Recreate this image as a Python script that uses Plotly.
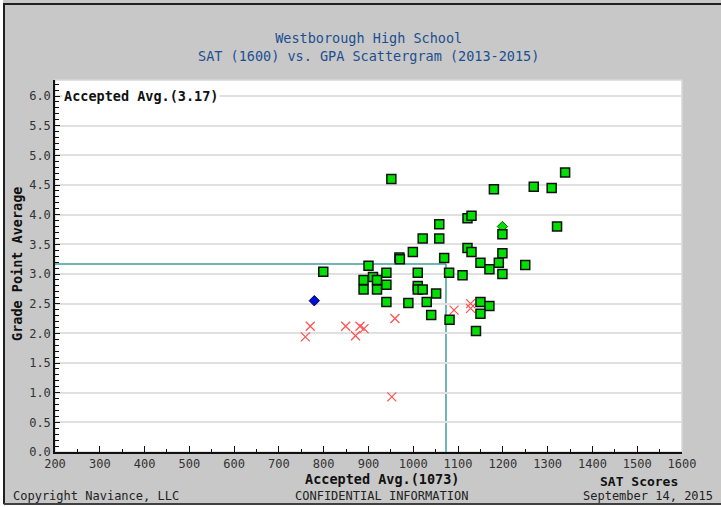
import plotly.graph_objects as go

# ---- data ----
accepted_sat = [951, 1339, 1180, 1269, 1309, 1058, 1121, 1130, 1199, 1321, 1021, 1058, 999, 969, 970,
                1069, 1121, 1130, 1199, 1150, 1191, 1170, 1199, 1250, 900, 1080, 1110, 889, 910, 919,
                940, 1010, 889, 919, 940, 1010, 1010, 1021, 1051, 940, 989, 1030, 1150, 1170, 1040,
                1081, 1150, 1140, 799]
accepted_gpa = [4.60, 4.71, 4.43, 4.47, 4.45, 3.84, 3.94, 3.98, 3.67, 3.80, 3.60, 3.60, 3.37, 3.28, 3.25,
                3.27, 3.44, 3.37, 3.35, 3.19, 3.19, 3.08, 3.00, 3.15, 3.14, 3.02, 2.98, 2.90, 2.95, 2.90,
                3.02, 3.02, 2.74, 2.74, 2.82, 2.80, 2.74, 2.74, 2.67, 2.53, 2.51, 2.53, 2.53, 2.46, 2.31,
                2.23, 2.33, 2.04, 3.04]
denied_sat = [770, 759, 849, 881, 890, 871, 959, 952, 1091, 1128, 1128]
denied_gpa = [2.12, 1.94, 2.12, 2.12, 2.08, 1.96, 2.25, 0.93, 2.39, 2.50, 2.42]
green_diamond_sat = [1199]
green_diamond_gpa = [3.80]
blue_diamond_sat = [779]
blue_diamond_gpa = [2.55]

avg_sat = 1073
avg_gpa = 3.17
x_ticks = list(range(200, 1601, 100))
y_ticks = [0.0, 0.5, 1.0, 1.5, 2.0, 2.5, 3.0, 3.5, 4.0, 4.5, 5.0, 5.5, 6.0]

title_lines = ["Westborough High School", "SAT (1600) vs. GPA Scattergram (2013-2015)"]

MONO = "DejaVu Sans Mono"
GRAY = "#c8c8c8"

fig = go.Figure()

fig.add_trace(go.Scatter(x=denied_sat, y=denied_gpa, mode="markers",
                         marker=dict(symbol="x-thin", size=9, line=dict(color="#ff5050", width=1.2)),
                         showlegend=False, hoverinfo="x+y"))
fig.add_trace(go.Scatter(x=blue_diamond_sat, y=blue_diamond_gpa, mode="markers",
                         marker=dict(symbol="diamond", size=8, color="#0010d0",
                                     line=dict(color="#000060", width=1)),
                         showlegend=False))
fig.add_trace(go.Scatter(x=green_diamond_sat, y=green_diamond_gpa, mode="markers",
                         marker=dict(symbol="diamond", size=8, color="#00e000",
                                     line=dict(color="#006000", width=1)),
                         showlegend=False))
fig.add_trace(go.Scatter(x=accepted_sat, y=accepted_gpa, mode="markers",
                         marker=dict(symbol="square", size=9, color="#00e000",
                                     line=dict(color="#101010", width=1.5)),
                         showlegend=False))

# average lines
fig.add_shape(type="line", xref="x", yref="y", x0=200, x1=avg_sat, y0=avg_gpa, y1=avg_gpa,
              line=dict(color="#3f9f9f", width=1.5), layer="below")
fig.add_shape(type="line", xref="x", yref="y", x0=avg_sat, x1=avg_sat, y0=0, y1=avg_gpa,
              line=dict(color="#3f9f9f", width=1.5), layer="below")

# plot border (light top/right)
fig.add_shape(type="rect", xref="paper", yref="paper", x0=0, x1=1, y0=0, y1=1,
              line=dict(color="#d8d8d8", width=1.5), layer="below")

# outer frame
def xp(px):
    return (px - 55) / 627

def yp(py):
    return (452 - py) / 372

fig.add_shape(type="rect", xref="paper", yref="paper", x0=xp(-5), x1=xp(730), y0=yp(505), y1=yp(520),
              fillcolor="white", line=dict(width=0), layer="below")
fig.add_shape(type="rect", xref="paper", yref="paper", x0=xp(-5), x1=xp(3), y0=yp(520), y1=yp(-5),
              fillcolor="white", line=dict(width=0), layer="below")
fig.add_shape(type="line", xref="paper", yref="paper", x0=xp(3), x1=xp(730), y0=yp(4), y1=yp(4),
              line=dict(color="#202020", width=2))
fig.add_shape(type="line", xref="paper", yref="paper", x0=xp(4), x1=xp(4), y0=yp(4), y1=yp(504),
              line=dict(color="#202020", width=2))
fig.add_shape(type="line", xref="paper", yref="paper", x0=xp(4), x1=xp(730), y0=yp(504), y1=yp(504),
              line=dict(color="#404040", width=2))

ann = []
ann.append(dict(text="<br>".join(title_lines), x=xp(368), y=yp(47), xref="paper", yref="paper",
                showarrow=False, font=dict(family=MONO, size=13.5, color="#1c4f8f"),
                xanchor="center", yanchor="middle", align="center"))
ann.append(dict(text=f"<b>Accepted Avg.({avg_gpa:.2f})</b>", x=200, y=6.0, xref="x", yref="y",
                xshift=7, showarrow=False, font=dict(family=MONO, size=13.5, color="#111"),
                xanchor="left", yanchor="middle", bgcolor="white"))
ann.append(dict(text="<b>Grade Point Average</b>", x=xp(17), y=yp(264), xref="paper", yref="paper",
                textangle=-90, showarrow=False, font=dict(family=MONO, size=13.5, color="#111"),
                xanchor="center", yanchor="middle"))
ann.append(dict(text=f"<b>Accepted Avg.({avg_sat})</b>", x=xp(382), y=yp(479), xref="paper", yref="paper",
                showarrow=False, font=dict(family=MONO, size=13.5, color="#111"),
                xanchor="center", yanchor="middle"))
ann.append(dict(text="<b>SAT Scores</b>", x=xp(639), y=yp(481), xref="paper", yref="paper",
                showarrow=False, font=dict(family=MONO, size=13, color="#111"),
                xanchor="center", yanchor="middle"))
ann.append(dict(text="Copyright Naviance, LLC", x=xp(11), y=yp(496), xref="paper", yref="paper",
                showarrow=False, font=dict(family=MONO, size=12, color="#222"),
                xanchor="left", yanchor="middle"))
ann.append(dict(text="CONFIDENTIAL INFORMATION", x=xp(381), y=yp(496), xref="paper", yref="paper",
                showarrow=False, font=dict(family=MONO, size=12, color="#222"),
                xanchor="center", yanchor="middle"))
ann.append(dict(text="September 14, 2015", x=xp(715), y=yp(496), xref="paper", yref="paper",
                showarrow=False, font=dict(family=MONO, size=12, color="#222"),
                xanchor="right", yanchor="middle"))

fig.update_layout(
    width=721, height=507,
    margin=dict(l=55, r=39, t=80, b=55),
    paper_bgcolor=GRAY, plot_bgcolor="white",
    annotations=ann,
    showlegend=False,
)
fig.update_xaxes(range=[200, 1600], tickvals=x_ticks, ticktext=[str(v) for v in x_ticks],
                 showgrid=False, zeroline=False, showline=True, linecolor="#111", linewidth=1.5,
                 ticks="inside", ticklen=6, tickcolor="#111", tickwidth=1,
                 minor=dict(dtick=50, tick0=200, ticks="inside", ticklen=3, tickcolor="#111", showgrid=False),
                 tickfont=dict(family=MONO, size=12, color="#333"))
fig.update_yaxes(range=[0, 6.27], tickvals=y_ticks, ticktext=[f"{v:.1f}" for v in y_ticks],
                 showgrid=True, gridcolor="#e0e0e0", gridwidth=1.5, zeroline=False,
                 showline=True, linecolor="#111", linewidth=1.5,
                 ticks="inside", ticklen=5, tickcolor="#111", tickwidth=1,
                 minor=dict(dtick=0.1, tick0=0, ticks="inside", ticklen=4, tickcolor="#111", showgrid=False),
                 tickfont=dict(family=MONO, size=12, color="#333"))

fig.write_html("out.html", config={"displayModeBar": False},
               post_script="document.body.style.margin='0';document.body.style.overflow='hidden';")
